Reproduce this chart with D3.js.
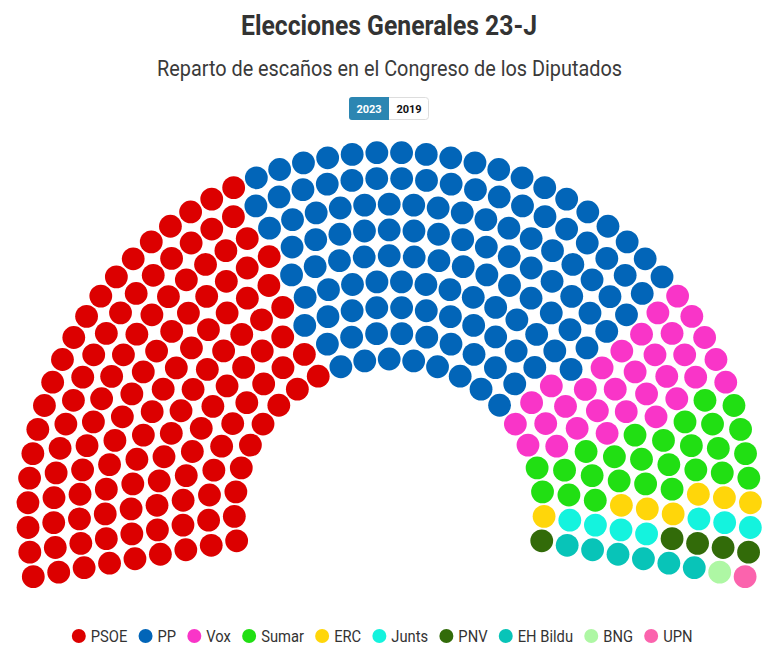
<!DOCTYPE html>
<html>
<head>
<meta charset="utf-8">
<script src="https://cdn.jsdelivr.net/npm/d3@7"></script>
<style>
  html, body { margin: 0; padding: 0; background: #ffffff; }
  svg { display: block; }
</style>
</head>
<body>
<svg id="chart" width="780" height="659"></svg>
<script>
// ---------------- DATA ----------------
const parties = ["PSOE", "PP", "Vox", "Sumar", "ERC", "Junts", "PNV", "EH Bildu", "BNG", "UPN"];
const seats2023 = [128, 124, 31, 26, 7, 7, 5, 6, 1, 1];
const partyColors = ["#dc0000", "#0265b8", "#f935c8", "#21df13", "#ffd60a", "#14f3de", "#326b09", "#08c4b8", "#aef7a4", "#fb63ad"];
const yearButtons = ["2023", "2019"];
const titleText = "Elecciones Generales 23-J";
const subtitleText = "Reparto de escaños en el Congreso de los Diputados";

// ---------------- LAYOUT ----------------
const W = 780, H = 659;
const svg = d3.select("#chart");
svg.append("rect").attr("width", W).attr("height", H).attr("fill", "#ffffff");

const center = { x: 389.2, y: 513.9 };
const startDeg = -100, endDeg = 100;
const startRad = (startDeg - 90) * Math.PI / 180;
const endRad = (endDeg - 90) * Math.PI / 180;
const fullAngle = endRad - startRad;
const layoutDiameter = 748.7, layoutInner = 259;

// Parliament (item) layout: grow the item size until the arcs hold the total,
// keep the previous fit and trim the densest rows.
function hemicycleRows(total) {
  let itemSize = 0, itemCount = Infinity, finalItemCount, rows, testRows;
  while (itemCount > total) {
    finalItemCount = itemCount;
    itemCount = 0;
    rows = testRows;
    testRows = [];
    itemSize++;
    const rowCount = Math.floor((layoutDiameter - layoutInner) / itemSize / 2);
    for (let row = rowCount; row > 0; row--) {
      const rowRadius = (layoutInner + (row / rowCount) * (layoutDiameter - layoutInner - itemSize)) / 2;
      const rowLength = fullAngle * rowRadius;
      const colCount = Math.ceil(rowLength / itemSize);
      testRows.push({ row, rowRadius, rowLength, colCount });
      itemCount += colCount + 1;
    }
  }
  let overshoot = finalItemCount - total;
  while (overshoot > 0) {
    rows.map(r => ({ dens: r.colCount / r.rowLength, row: r }))
      .sort((a, b) => b.dens - a.dens)
      .slice(0, Math.min(overshoot, Math.ceil(rows.length / 2)))
      .forEach(it => { if (overshoot > 0) { it.row.colCount--; overshoot--; } });
  }
  return rows;
}

const total = d3.sum(seats2023);
const rows = hemicycleRows(total);

const rScale = d3.scaleLinear()
  .domain(d3.extent(rows, r => r.rowRadius))
  .range([154.9, 361.4]);

let slots = [];
rows.forEach(r => {
  const inc = r.colCount ? fullAngle / r.colCount : 0;
  for (let c = 0; c <= r.colCount; c++) {
    slots.push({ angle: startRad + c * inc, row: r.row, radius: r.rowRadius });
  }
});
slots.sort((a, b) => (Math.abs(a.angle - b.angle) < 1e-9) ? a.row - b.row : a.angle - b.angle);

const seatData = [];
let si = 0;
parties.forEach((p, i) => {
  for (let k = 0; k < seats2023[i]; k++) {
    const s = slots[si++];
    seatData.push({ party: p, color: partyColors[i], angle: s.angle, radius: s.radius });
  }
});

const seatR = 11.4;
svg.append("g").attr("class", "seats")
  .selectAll("circle")
  .data(seatData)
  .join("circle")
  .attr("cx", d => center.x + Math.cos(d.angle) * rScale(d.radius))
  .attr("cy", d => center.y + Math.sin(d.angle) * rScale(d.radius))
  .attr("r", seatR)
  .attr("fill", d => d.color);

// ---------------- TITLES ----------------
svg.append("text")
  .attr("x", 389).attr("y", 34.5)
  .attr("text-anchor", "middle")
  .attr("font-family", "Roboto, sans-serif")
  .attr("font-weight", 700)
  .attr("font-size", 28)
  .attr("fill", "#333333")
  .attr("textLength", 296)
  .attr("lengthAdjust", "spacingAndGlyphs")
  .text(titleText);

svg.append("text")
  .attr("x", 389.5).attr("y", 76)
  .attr("text-anchor", "middle")
  .attr("font-family", "Roboto, sans-serif")
  .attr("font-weight", 400)
  .attr("font-size", 22)
  .attr("fill", "#3a3a3a")
  .attr("textLength", 465)
  .attr("lengthAdjust", "spacingAndGlyphs")
  .text(subtitleText);

// ---------------- YEAR BUTTONS ----------------
const btnX = d3.scaleBand().domain(yearButtons).range([349, 429]);
const btnY = 97, btnH = 23;
const btns = svg.append("g").attr("class", "buttons");
btns.append("rect")
  .attr("x", 349.5).attr("y", btnY + 0.5)
  .attr("width", 79).attr("height", btnH - 1)
  .attr("rx", 3)
  .attr("fill", "#ffffff").attr("stroke", "#dddddd");
btns.append("path")
  .attr("d", () => {
    const x0 = btnX(yearButtons[0]), x1 = x0 + btnX.bandwidth(), y0 = btnY, y1 = btnY + btnH, r = 3;
    return `M${x0 + r},${y0} H${x1} V${y1} H${x0 + r} Q${x0},${y1} ${x0},${y1 - r} V${y0 + r} Q${x0},${y0} ${x0 + r},${y0} Z`;
  })
  .attr("fill", "#2c86b2");
btns.selectAll("text")
  .data(yearButtons)
  .join("text")
  .attr("x", d => btnX(d) + btnX.bandwidth() / 2)
  .attr("y", btnY + 16)
  .attr("text-anchor", "middle")
  .attr("font-family", "Roboto, sans-serif")
  .attr("font-weight", 700)
  .attr("font-size", 11)
  .attr("fill", (d, i) => i === 0 ? "#ffffff" : "#111111")
  .text(d => d);

// ---------------- LEGEND ----------------
const legendY = 636;
const legendFont = 16, condense = 0.92, markerR = 7, markerGap = 5;
const legend = svg.append("g").attr("class", "legend");
const items = legend.selectAll("g.item")
  .data(parties)
  .join("g").attr("class", "item");
items.append("circle")
  .attr("r", markerR)
  .attr("cy", legendY)
  .attr("fill", (d, i) => partyColors[i]);
const labels = items.append("text")
  .attr("y", legendY + 5.6)
  .attr("font-family", "Roboto, sans-serif")
  .attr("font-size", legendFont)
  .attr("fill", "#333333")
  .text(d => d);
const widths = [];
labels.each(function () {
  const w = this.getComputedTextLength() * condense;
  widths.push(w);
  d3.select(this).attr("textLength", w).attr("lengthAdjust", "spacingAndGlyphs");
});
const legendLeft = 71.8, legendRight = 692.5;
const itemW = widths.map(w => markerR * 2 + markerGap + w);
const gap = ((legendRight - legendLeft) - d3.sum(itemW)) / (parties.length - 1);
let xPos = legendLeft;
items.each(function (d, i) {
  const g = d3.select(this);
  g.select("circle").attr("cx", xPos + markerR);
  g.select("text").attr("x", xPos + markerR * 2 + markerGap);
  xPos += itemW[i] + gap;
});
</script>
</body>
</html>
